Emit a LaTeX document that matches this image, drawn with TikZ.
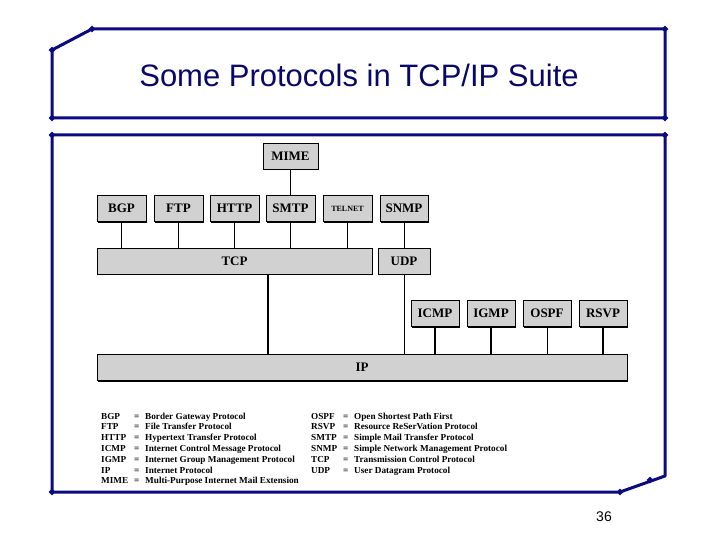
\documentclass[tikz,border=0pt]{standalone}
\usepackage{fontspec}
\setmainfont{Liberation Serif}
\newfontfamily\titlefont{Liberation Sans}
\usetikzlibrary{positioning,shadows,shapes.geometric}
\definecolor{framenavy}{RGB}{10,10,130}
\tikzset{
  proto/.style={draw, fill=black!18, line width=0.6pt, inner sep=0pt,
    minimum height=26pt, font=\fontsize{13}{13}\selectfont\bfseries,
    general shadow={fill=black, shadow xshift=1.2pt, shadow yshift=-1.2pt}},
  link/.style={line width=1.8pt},
  thinlink/.style={line width=0.5pt},
  frame/.style={framenavy, line width=3pt, line join=round},
  tip/.style={fill=framenavy, draw=none, minimum size=7pt, inner sep=0pt, diamond},
  legend/.style={font=\fontsize{9.2}{10}\selectfont\bfseries, anchor=base west, inner sep=0pt}
}
\begin{document}
\begin{tikzpicture}[x=1pt, y=-1pt]
\useasboundingbox (0,0) rectangle (720,540);
% frames
\draw[frame] (52,50) -- (92,29) -- (665,29) -- (665,118) -- (52,118) -- cycle;
\draw[frame] (52,135) -- (665,135) -- (665,476) -- (620,492) -- (52,492) -- cycle;
\foreach \p in {(52,50),(92,29),(665,29),(665,118),(52,118),(52,135),(665,135),(52,492),(620,492),(650,480)}
  \node[tip] at \p {};
\node[font=\titlefont\fontsize{31}{31}\selectfont, text=framenavy!80!black] (title) at (359,75) {Some Protocols in TCP/IP Suite};
\node[font=\titlefont\fontsize{14}{14}\selectfont] (page) at (604,517) {36};
% protocol boxes
\node[proto, minimum width=55pt] (mime) at (290.5,156) {MIME};
\node[proto, minimum width=49pt] (bgp) at (121.5,208.5) {BGP};
\node[proto, minimum width=49pt] (ftp) at (178.5,208.5) {FTP};
\node[proto, minimum width=49pt] (http) at (234.5,208.5) {HTTP};
\node[proto, minimum width=49pt] (smtp) at (290.5,208.5) {SMTP};
\node[proto, minimum width=49pt, font=\fontsize{8}{8}\selectfont\bfseries] (telnet) at (347.5,208.5) {TELNET};
\node[proto, minimum width=48pt] (snmp) at (404,208.5) {SNMP};
\node[proto, minimum width=275pt] (tcp) at (234.5,261) {TCP};
\node[proto, minimum width=52pt] (udp) at (404,261) {UDP};
\node[proto, minimum width=48pt] (icmp) at (435,313.5) {ICMP};
\node[proto, minimum width=48pt] (igmp) at (491,313.5) {IGMP};
\node[proto, minimum width=48pt] (ospf) at (547,313.5) {OSPF};
\node[proto, minimum width=48pt] (rsvp) at (603,313.5) {RSVP};
\node[proto, minimum width=530pt] (ip) at (362,367.5) {IP};
% connectors
\draw[link] (mime) -- (smtp);
\draw[link] (bgp) -- (bgp |- tcp.north);
\draw[link] (ftp) -- (ftp |- tcp.north);
\draw[thinlink] (http) -- (http |- tcp.north);
\draw[thinlink] (smtp) -- (smtp |- tcp.north);
\draw[link] (telnet) -- (telnet |- tcp.north);
\draw[thinlink] (snmp) -- (udp);
\draw[link] (268,274) -- (268,354);
\draw[thinlink] (udp) -- (udp |- ip.north);
\draw[link] (icmp) -- (icmp |- ip.north);
\draw[link] (igmp) -- (igmp |- ip.north);
\draw[thinlink] (ospf) -- (ospf |- ip.north);
\draw[link] (rsvp) -- (rsvp |- ip.north);
% legend
\foreach \a/\t [count=\i from 0] in {BGP/Border Gateway Protocol, FTP/File Transfer Protocol,
    HTTP/Hypertext Transfer Protocol, ICMP/Internet Control Message Protocol,
    IGMP/Internet Group Management Protocol, IP/Internet Protocol,
    MIME/Multi-Purpose Internet Mail Extension} {
  \node[legend] at (101,419+10.8*\i) {\a};
  \node[legend] at (134,419+10.8*\i) {=};
  \node[legend] at (145,419+10.8*\i) {\t};
}
\foreach \a/\t [count=\i from 0] in {OSPF/Open Shortest Path First, RSVP/Resource ReSerVation Protocol,
    SMTP/Simple Mail Transfer Protocol, SNMP/Simple Network Management Protocol,
    TCP/Transmission Control Protocol, UDP/User Datagram Protocol} {
  \node[legend] at (311,419+10.8*\i) {\a};
  \node[legend] at (343,419+10.8*\i) {=};
  \node[legend] at (354,419+10.8*\i) {\t};
}
\end{tikzpicture}
\end{document}
